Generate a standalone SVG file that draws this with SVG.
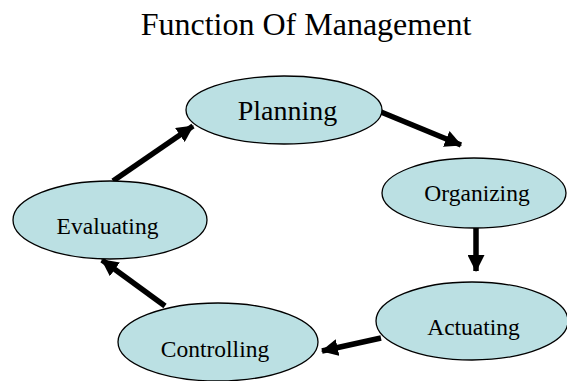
<svg xmlns="http://www.w3.org/2000/svg" width="567" height="381" viewBox="0 0 567 381">
<defs>
<style>
.node ellipse{fill:#bbe0e3;stroke:#000;stroke-width:1.3}
.node text,.title{font-family:"Liberation Serif","Times New Roman",serif;fill:#000;text-anchor:middle}
.edges line{stroke:#000;stroke-width:5.5;marker-end:url(#ah)}
</style>
<marker id="ah" markerUnits="userSpaceOnUse" viewBox="0 0 16 16" refX="15" refY="8" markerWidth="17" markerHeight="17" orient="auto">
<path d="M0,0 L16,8 L0,16 Z" fill="#000"/>
</marker>
</defs>
<rect width="567" height="381" fill="#fff"/>
<text class="title" x="306" y="35" font-size="32">Function Of Management</text>
<g class="edges">
<line x1="381" y1="112" x2="461" y2="145"/>
<line x1="476" y1="228" x2="476" y2="271"/>
<line x1="381" y1="338" x2="322" y2="351"/>
<line x1="165" y1="306" x2="102" y2="260"/>
<line x1="113" y1="181" x2="193" y2="126"/>
</g>
<g id="planning" class="node"><ellipse cx="284" cy="110" rx="98" ry="34"/><text x="287.5" y="120" font-size="28">Planning</text></g>
<g id="organizing" class="node"><ellipse cx="474" cy="193" rx="92" ry="35"/><text x="477" y="201" font-size="23.5">Organizing</text></g>
<g id="actuating" class="node"><ellipse cx="472" cy="321" rx="96" ry="39"/><text x="473.5" y="335" font-size="23.5">Actuating</text></g>
<g id="controlling" class="node"><ellipse cx="218" cy="342" rx="100" ry="39"/><text x="215" y="357" font-size="23.5">Controlling</text></g>
<g id="evaluating" class="node"><ellipse cx="110" cy="220" rx="97" ry="39"/><text x="107.5" y="234" font-size="23.5">Evaluating</text></g>
</svg>
